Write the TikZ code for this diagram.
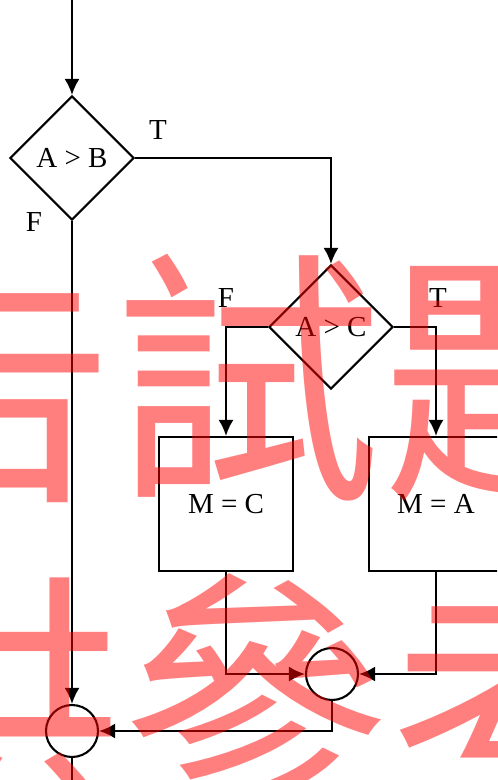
\documentclass[tikz,border=0pt]{standalone}
\usepackage{fontspec}
\setmainfont{Liberation Serif}
\newfontfamily\stampfont{Noto Sans CJK TC}
\usetikzlibrary{arrows.meta, shapes.geometric}
\tikzset{>={Latex[length = 3.2mm, width = 3mm]}}
\tikzstyle{decision} = [diamond, aspect = 1, text centered, minimum size = 2.48cm, inner sep = 0pt, draw = black, line width = 1.2pt]
\tikzstyle{process} = [rectangle, text centered, minimum width = 2.68cm, minimum height = 2.68cm, draw = black, line width = 1.2pt]
\tikzstyle{junction} = [circle, minimum size = 1.04cm, inner sep = 0pt, draw = black, line width = 1.2pt]
\tikzstyle{flow} = [->, line width = 1.2pt]
\tikzstyle{stamp} = [text = red, text opacity = 0.5, inner sep = 0pt, font = \stampfont\fontsize{152}{152}\selectfont]

\begin{document}
\begin{tikzpicture}[x = 0.02cm, y = -0.02cm, font = \fontsize{16.5}{19}\selectfont]
    \useasboundingbox (0,0) rectangle (497,780);
    \clip (0,0) rectangle (497,780);
    \coordinate (entry) at (72,0);
    \coordinate (exit) at (72,800);
    \node (cmpAB) [decision] at (72,158) {A > B};
    \node (cmpAC) [decision] at (331,327) {A > C};
    \node (setMC) [process] at (226,504) {M = C};
    \node (setMA) [process] at (436,504) {M = A};
    \node (joinIn) [junction] at (332,674) {};
    \node (joinOut) [junction] at (72,731) {};
    \node at (158,130) {T};
    \node at (34,222) {F};
    \node at (226,298) {F};
    \node at (438,298) {T};
    \draw [flow] (entry) -- (cmpAB);
    \draw [flow] (cmpAB.east) -| (cmpAC.north);
    \draw [flow] (cmpAB.south) -- (joinOut.north);
    \draw [flow] (cmpAC.west) -| (setMC.north);
    \draw [flow] (cmpAC.east) -| (setMA.north);
    \draw [flow] (setMC.south) |- (joinIn.west);
    \draw [flow] (setMA.south) |- (joinIn.east);
    \draw [flow] (joinIn.south) |- (joinOut.east);
    \draw [line width = 1.2pt] (joinOut.south) -- (exit);
    \node (stampTop) [stamp] at (115,379) {公告試題};
    \node (stampBottom) [stamp] at (122,697) {僅供參考};
\end{tikzpicture}
\end{document}
